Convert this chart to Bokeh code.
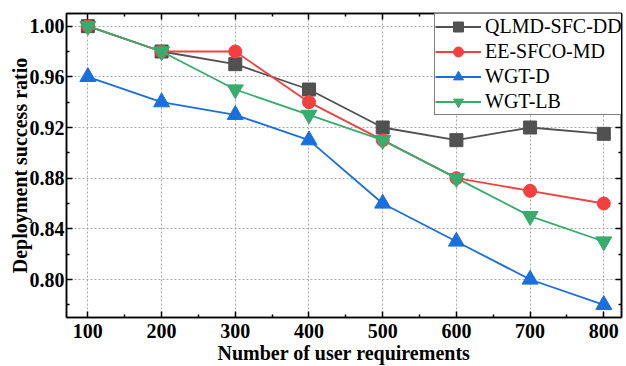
from bokeh.plotting import figure
from bokeh.models import (Range1d, FixedTicker, NumeralTickFormatter, LinearAxis,
                          Legend, LegendItem, CustomLabelingPolicy)
from bokeh.embed import file_html
from bokeh.resources import INLINE

# ---- data ----
x_vals = [100, 200, 300, 400, 500, 600, 700, 800]
qlmd = [1.00, 0.98, 0.97, 0.95, 0.92, 0.91, 0.92, 0.915]
ee_sfco = [1.00, 0.98, 0.98, 0.94, 0.91, 0.88, 0.87, 0.86]
wgt_d = [0.96, 0.94, 0.93, 0.91, 0.86, 0.83, 0.80, 0.78]
wgt_lb = [1.00, 0.98, 0.95, 0.93, 0.91, 0.88, 0.85, 0.83]
series_names = ["QLMD-SFC-DD", "EE-SFCO-MD", "WGT-D", "WGT-LB"]
x_ticks = [100, 200, 300, 400, 500, 600, 700, 800]
x_minor = [150, 250, 350, 450, 550, 650, 750]
y_ticks = [0.80, 0.84, 0.88, 0.92, 0.96, 1.00]
y_minor = [0.78, 0.82, 0.86, 0.90, 0.94, 0.98]

FONT = "Liberation Serif"

p = figure(width=626, height=366, output_backend="svg", toolbar_location=None,
           x_range=Range1d(71, 824), y_range=Range1d(0.77, 1.01),
           min_border_left=66, min_border_right=1, min_border_top=13,
           min_border_bottom=47, background_fill_color="white",
           border_fill_color="white")

p.outline_line_color = "black"
p.outline_line_width = 1.5

xt = FixedTicker(ticks=x_ticks, minor_ticks=x_minor)
yt = FixedTicker(ticks=y_ticks, minor_ticks=y_minor)

for ax in p.xaxis:
    ax.ticker = xt
for ax in p.yaxis:
    ax.ticker = yt
    ax.formatter = NumeralTickFormatter(format="0.00")

hide_all = CustomLabelingPolicy(code="for (const i of indices) { indices.unset(i) } return indices")

def style_axis(ax, labels=True):
    ax.axis_line_color = "black"
    ax.axis_line_width = 1.5
    ax.major_tick_in = 6
    ax.major_tick_out = 0
    ax.minor_tick_in = 3
    ax.minor_tick_out = 0
    ax.major_tick_line_color = "black"
    ax.minor_tick_line_color = "black"
    ax.major_tick_line_width = 1.5
    ax.minor_tick_line_width = 1.5
    if labels:
        ax.major_label_text_font = FONT
        ax.major_label_text_font_style = "bold"
        ax.major_label_text_font_size = "20px"
        ax.major_label_text_color = "black"
        ax.axis_label_text_font = FONT
        ax.axis_label_text_font_style = "bold"
        ax.axis_label_text_font_size = "20px"
        ax.axis_label_text_color = "black"
    else:
        ax.major_label_policy = hide_all
        ax.major_label_text_font_size = "1px"
        ax.major_label_standoff = 0

xa = p.xaxis[0]
ya = p.yaxis[0]
style_axis(xa)
style_axis(ya)
xa.axis_label = "Number of user requirements"
ya.axis_label = "Deployment success ratio"
xa.major_label_standoff = 6
xa.axis_label_standoff = 1
ya.major_label_standoff = 2
ya.axis_label_standoff = -4

top = LinearAxis(ticker=xt)
right = LinearAxis(ticker=yt)
style_axis(top, labels=False)
style_axis(right, labels=False)
p.add_layout(top, "above")
p.add_layout(right, "right")

p.xgrid.ticker = xt
p.ygrid.ticker = yt
for g in (p.xgrid[0], p.ygrid[0]):
    g.grid_line_color = "#a8a8a8"
    g.grid_line_dash = "2 2"
    g.grid_line_width = 1

colors = ["#515151", "#F14040", "#1A6FDF", "#37AD6B"]
markers = ["square", "circle", "triangle", "inverted_triangle"]
sizes = [13, 13, 16, 16]
data = [qlmd, ee_sfco, wgt_d, wgt_lb]

items = []
for name, ys, c, m, s in zip(series_names, data, colors, markers, sizes):
    r1 = p.line(x_vals, ys, line_color=c, line_width=1.8)
    r2 = p.scatter(x_vals, ys, marker=m, size=s, fill_color=c, line_color=c)
    items.append(LegendItem(label=name, renderers=[r1, r2]))

legend = Legend(items=items, location=(368, 202))
legend.label_text_font = FONT
legend.label_text_font_size = "20px"
legend.label_text_color = "black"
legend.border_line_color = "black"
legend.border_line_width = 1
legend.background_fill_color = "white"
legend.background_fill_alpha = 1
legend.padding = 0
legend.margin = 0
legend.spacing = 0
legend.glyph_width = 46
legend.glyph_height = 25
legend.label_height = 25
legend.label_standoff = 4
p.add_layout(legend, "center")

open("out.html", "w").write(file_html(p, INLINE))
